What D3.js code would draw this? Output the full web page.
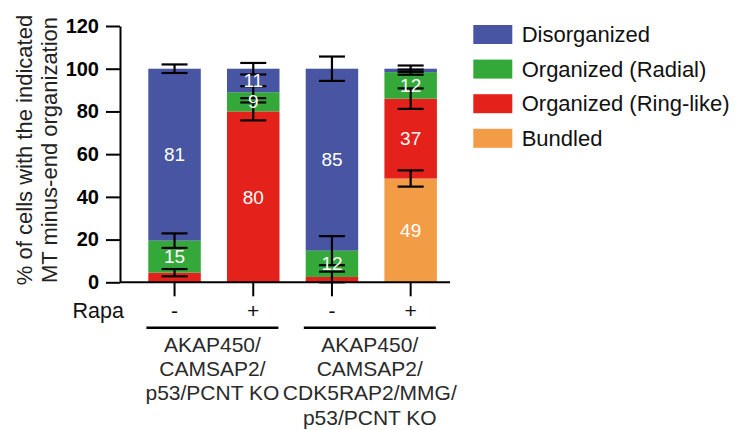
<!DOCTYPE html>
<html><head><meta charset="utf-8">
<script src="https://cdn.jsdelivr.net/npm/d3@7"></script>
<style>body{margin:0;background:#fff}svg{display:block}text{font-family:"Liberation Sans",Arial,sans-serif}</style>
</head><body>
<script>
// ---- data ----
const categories = ["A-", "A+", "B-", "B+"];
const rapa = ["-", "+", "-", "+"];
const seriesNames = ["Bundled", "Organized (Ring-like)", "Organized (Radial)", "Disorganized"];
const bundled      = [0, 0, 0, 48.6];
const ringLike     = [4.5, 80, 2.5, 37.4];
const radial       = [15, 9, 12.3, 12.4];
const disorganized = [80.5, 11, 85.2, 1.6];
const bundledErr      = [0, 0, 0, 3.8];
const ringLikeErr     = [1.7, 4.2, 2.5, 4.8];
const radialErr       = [3.4, 2.8, 6.8, 1.2];
const disorganizedErr = [2, 2.7, 5.7, 1.5];
const yTicks = [0, 20, 40, 60, 80, 100, 120];
const legendOrder = ["Disorganized", "Organized (Radial)", "Organized (Ring-like)", "Bundled"];
const groups = [
  {cats: ["A-", "A+"], lines: ["AKAP450/", "CAMSAP2/", "p53/PCNT KO"]},
  {cats: ["B-", "B+"], lines: ["AKAP450/", "CAMSAP2/", "CDK5RAP2/MMG/", "p53/PCNT KO"]}
];
const colors = {"Disorganized": "#4855a3", "Organized (Radial)": "#35a83a", "Organized (Ring-like)": "#e5211b", "Bundled": "#f29c46"};

const seriesVals = [bundled, ringLike, radial, disorganized];
const seriesErrs = [bundledErr, ringLikeErr, radialErr, disorganizedErr];
const rows = categories.map((c, i) => {
  const r = {cat: c};
  seriesNames.forEach((s, k) => r[s] = seriesVals[k][i]);
  return r;
});

const W = 739, H = 430;
const svg = d3.select("body").append("svg").attr("width", W).attr("height", H);

const y = d3.scaleLinear().domain([0, 120]).range([282.3, 26]);
const x = d3.scaleBand().domain(categories).range([148.3, 436.9]).paddingInner(0.333).paddingOuter(0);
const bw = x.bandwidth();

const stack = d3.stack().keys(seriesNames)(rows);

// bars
const layers = svg.append("g").selectAll("g").data(stack).join("g")
  .attr("fill", d => colors[d.key]);
layers.selectAll("rect").data(d => d).join("rect")
  .attr("x", d => x(d.data.cat)).attr("width", bw)
  .attr("y", d => y(d[1])).attr("height", d => Math.max(0, y(d[0]) - y(d[1])));

// error bars
const eg = svg.append("g").attr("stroke", "#000").attr("stroke-width", 2.2).attr("fill", "none");
stack.forEach((layer, k) => {
  layer.forEach((d, i) => {
    const v = seriesVals[k][i], e = seriesErrs[k][i];
    if (!v || !e) return;
    const cx = x(d.data.cat) + bw / 2;
    const top = d[1];
    const hw = 13;
    eg.append("line").attr("x1", cx).attr("x2", cx).attr("y1", y(top + e)).attr("y2", y(Math.max(0, top - e)));
    eg.append("line").attr("x1", cx - hw).attr("x2", cx + hw).attr("y1", y(top + e)).attr("y2", y(top + e));
    eg.append("line").attr("x1", cx - hw).attr("x2", cx + hw).attr("y1", y(top - e)).attr("y2", y(top - e));
  });
});

// value labels
const lg = svg.append("g").attr("fill", "#fff").attr("font-size", 19).attr("text-anchor", "middle");
stack.forEach((layer, k) => {
  layer.forEach((d, i) => {
    const v = seriesVals[k][i];
    if (v < 5) return;
    lg.append("text").attr("x", x(d.data.cat) + bw / 2).attr("y", y((d[0] + d[1]) / 2))
      .attr("dy", "0.35em").text(Math.round(v));
  });
});

// y axis
const yAxis = svg.append("g").attr("transform", "translate(120,0)")
  .call(d3.axisLeft(y).tickValues(yTicks).tickSize(14).tickPadding(7).tickSizeOuter(0));
yAxis.select(".domain").attr("stroke", "#000").attr("stroke-width", 2);
yAxis.selectAll(".tick line").attr("stroke", "#000").attr("stroke-width", 2);
yAxis.selectAll(".tick text").attr("font-size", 20).attr("font-weight", "bold").attr("fill", "#000")
  .style("font-family", '"Liberation Sans",Arial,sans-serif');

// x axis
svg.append("line").attr("x1", 120).attr("x2", 450).attr("y1", y(0)).attr("y2", y(0))
  .attr("stroke", "#000").attr("stroke-width", 2);
const xAxis = svg.append("g").attr("transform", `translate(0,${y(0)})`)
  .call(d3.axisBottom(x).tickSize(14).tickFormat(""));
xAxis.select(".domain").remove();
xAxis.selectAll(".tick line").attr("stroke", "#000").attr("stroke-width", 2);

// Rapa row
svg.append("text").attr("x", 124).attr("y", 318).attr("text-anchor", "end")
  .attr("font-size", 21.5).attr("fill", "#111").text("Rapa");
svg.append("g").selectAll("text").data(categories).join("text")
  .attr("x", d => x(d) + bw / 2).attr("y", 318).attr("text-anchor", "middle")
  .attr("font-size", 21).attr("fill", "#111").text((d, i) => rapa[i]);

// group lines and labels
groups.forEach(g => {
  const c = (x(g.cats[0]) + x(g.cats[1]) + bw) / 2 - 1.5;
  svg.append("line").attr("x1", c - 66).attr("x2", c + 66).attr("y1", 327.7).attr("y2", 327.7)
    .attr("stroke", "#000").attr("stroke-width", 2.5);
  svg.append("g").selectAll("text").data(g.lines).join("text")
    .attr("x", c).attr("y", (d, i) => 351.7 + i * 24.3).attr("text-anchor", "middle")
    .attr("font-size", 21).attr("fill", "#2a2a2a").text(d => d);
});

// y title
const yt = svg.append("text").attr("transform", "translate(31.7,150) rotate(-90)")
  .attr("text-anchor", "middle").attr("font-size", 22).attr("fill", "#222");
yt.append("tspan").attr("x", 0).attr("y", 0).text("% of cells with the indicated");
yt.append("tspan").attr("x", 0).attr("y", 25.6).text("MT minus-end organization");

// legend
const leg = svg.append("g").selectAll("g").data(legendOrder).join("g")
  .attr("transform", (d, i) => `translate(473.3,${25 + i * 34.6})`);
leg.append("rect").attr("width", 39).attr("height", 19).attr("fill", d => colors[d]);
leg.append("text").attr("x", 48.4).attr("y", 9.5).attr("dy", "0.35em")
  .attr("font-size", 22).attr("fill", "#111").text(d => d);
</script>
</body></html>
